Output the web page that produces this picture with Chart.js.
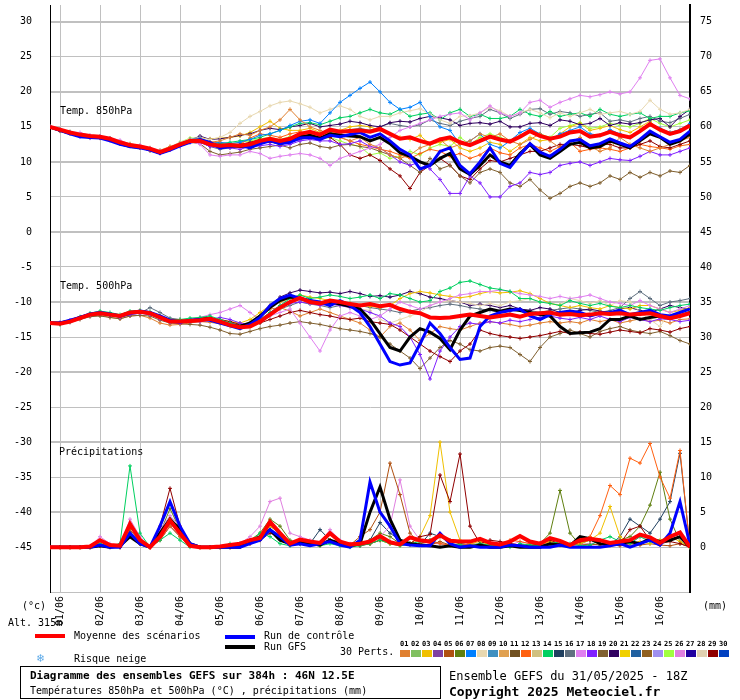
<!DOCTYPE html>
<html><head><meta charset="utf-8">
<script src="https://cdn.jsdelivr.net/npm/chart.js@4"></script>
<style>
body{margin:0;background:#fff;width:740px;height:700px;position:relative;overflow:hidden;font-family:"DejaVu Sans Mono",monospace;font-size:10px;color:#000}
.t{position:absolute;white-space:nowrap;line-height:1}
#wrap{position:absolute;left:0;top:0;width:740px;height:660px}
.bar{position:absolute;width:30px;height:4px}
</style></head><body>
<div id="wrap"><canvas id="c" width="740" height="660"></canvas></div>
<div class="t" style="left:22px;top:601px">(°c)</div>
<div class="t" style="left:703px;top:601px">(mm)</div>
<div class="t" style="left:8px;top:618px">Alt. 315m</div>
<div class="bar" style="left:35px;top:634px;background:#ff0000"></div>
<div class="t" style="left:74px;top:631px">Moyenne des scénarios</div>
<div class="bar" style="left:225px;top:635px;background:#0000ff"></div>
<div class="t" style="left:264px;top:631px">Run de contrôle</div>
<div class="bar" style="left:225px;top:645px;background:#000"></div>
<div class="t" style="left:264px;top:642px">Run GFS</div>
<div class="t" style="left:37px;top:652px;color:#5aa8e8;font-size:12px">❄</div>
<div class="t" style="left:74px;top:654px">Risque neige</div>
<div class="t" style="left:340px;top:647px">30 Perts.</div>
<div id="pl"></div>
<div style="position:absolute;left:20px;top:666px;width:419px;height:31px;border:1px solid #000"></div>
<div class="t" style="left:30px;top:670px;font-weight:bold;font-size:11px">Diagramme des ensembles GEFS sur 384h : 46N 12.5E</div>
<div class="t" style="left:30px;top:686px">Températures 850hPa et 500hPa (°C) , précipitations (mm)</div>
<div class="t" style="left:449px;top:670px;font-size:12px">Ensemble GEFS du 31/05/2025 - 18Z</div>
<div class="t" style="left:449px;top:685px;font-size:13px;font-weight:bold">Copyright 2025 Meteociel.fr</div>
<script>
// ---------- DATA ----------
const dayLabels=["01/06","02/06","03/06","04/06","05/06","06/06","07/06","08/06","09/06","10/06","11/06","12/06","13/06","14/06","15/06","16/06"];
const tempTicks=[-45,-40,-35,-30,-25,-20,-15,-10,-5,0,5,10,15,20,25,30];
const rightTicks=[0,5,10,15,20,25,30,35,40,45,50,55,60,65,70,75];
const palette=["#e08030","#80c060","#f0c000","#8040a0","#b05010","#608010","#0080ff","#e8d8b0","#4090c0","#e0a050","#705020","#ff6010","#d0c080","#00d060","#204060","#607080","#e080f0","#8020ff","#806030","#300060","#f0d000","#2060a0","#906020","#a090f0","#a0ff40","#e080e0","#2000a0","#e0d0b0","#900000","#0040c0"];

// Temp 850hPa (°C), 6-hourly from 31/05 18Z
const t850_mean=[15,14.6,14.2,13.9,13.7,13.6,13.3,12.8,12.4,12.2,11.9,11.4,11.9,
12.5,13,13,12.5,12.3,12.4,12.3,12.5,13,13.3,13,13.3,14,
14.3,13.9,14.6,14.3,14.4,14.5,14.3,14.7,14,13.3,13.5,13,12.6,
13.2,13.5,12.8,12.4,13,13.6,13.2,12.9,13.6,14.4,13.7,13.3,13.6,
14.2,14.4,13.6,13.8,14.3,13.8,13.5,14.4,15.4,14.6,14,14.4,15.2];
const t850_ctl=[15,14.5,14,13.6,13.5,13.4,13,12.5,12.2,12,11.7,11.2,11.7,
12.3,12.8,13.2,12.8,12,12.2,12.4,12,12.6,13,12.6,12.8,13.4,
13.5,13.2,13.8,13.6,13.9,14.2,13.5,14,13,11.8,11,9,9.5,
11.5,12,9.5,8.3,10,12,9.8,9.2,11,12.6,11.4,10.8,11.8,
13,13.2,12.3,12.6,13.3,12.7,12.2,13.2,14.4,13.6,12.8,13.2,14.4];
const t850_gfs=[15,14.5,14.1,13.8,13.6,13.5,13.2,12.6,12.2,12.1,11.8,11.3,11.8,
12.4,12.9,13.1,12.6,12.2,12.3,12.2,12.3,12.8,13.1,12.6,13,13.6,
13.8,13.4,14,13.8,13.7,13.6,13,13.5,12.6,11.3,10.8,10,9.5,
10.5,11.2,9,8.2,9.5,11,10,9.5,11.2,12.5,11,10.5,11.5,
12.5,12.8,12,12.2,13,12.5,12,13,14,13.5,12.5,13,14];
const t850_p01=[15,14.4,14,13.8,13.5,13.4,13.1,12.6,12.5,12,11.6,11.6,12.2,
12.6,13.2,13.3,12.8,13,13.5,14,13.8,14.5,15,16,17.5,16,
15,14.5,14,13.5,13,13.5,12.5,12,11,10.5,11,12,12.5,
13.2,12,12.5,13,14,13.5,14,13,12.5,13.2,14,13,12,
12.8,13.5,12.2,11.5,12,13.5,12.5,12,11.5,12,12.5,13,13.5];
const t850_p07=[15,14.6,14.2,13.8,13.6,13.6,13.2,12.7,12.4,12.1,11.8,11.5,12,
12.6,13.2,13.4,12.6,12.8,12.6,12.8,13.2,13.8,14,14.5,15.2,15.8,
16,15.5,17,18.5,19.5,20.5,21.4,20,18.5,17.5,17.8,18.5,16.5,
15,14.5,12.5,13,14,12.5,12,13,14.2,14.8,14,13.2,14,
14.5,15,14,13.8,14.6,14,13.5,14.4,15.5,14.8,14.2,14.6,15.5];
const t850_p17=[15,14.7,14.3,14.2,13.8,13.7,13.4,13.1,12.5,12.4,12,11.6,12,
12.5,13,12.5,11,10.8,11,11,11.5,11.2,10.5,10.8,11,11.2,
11,10.5,9.5,10.5,11,11.5,12,12.5,13.5,14.5,15,15.5,16,
16.5,16.8,17,16,17,18,17,16.5,17,18.5,18.8,17.8,18.5,
19,19.5,19.3,19.6,20,19.7,20,22,24.5,24.7,22,19.5,19];
const t850_p08=[15,14.8,14.3,14,13.8,13.6,13.3,13,12.6,12.3,12,11.7,12.2,
12.8,13.3,13.5,13.2,13.5,14.2,15.5,16.5,17.2,18,18.5,18.7,18.3,
17.8,17,17.5,18,17.5,16.5,16,16.5,16.5,17,17.3,17.6,16.8,
16,15.5,16.5,16.6,17,17.8,17.3,16.5,17,17.5,17,16.3,17,
16.5,17,17.5,16.8,17,17.2,16.8,17.2,18.8,17.5,16.8,17,17.5];
const t850_p18=[15,14.5,14.1,13.6,13.4,13.4,13.1,12.6,12.2,12,11.7,11.2,11.7,
12.2,12.8,12.8,12.2,12,12,11.8,12.2,12.3,12.5,12.2,12.5,13,
13.2,13,13,12.5,12.6,13,12.2,12,11,10,9.5,10,9,
7.5,5.5,5.5,8,7,5,5,6.5,7,8.5,8.2,8.5,9.5,
9.8,10,9.5,10,10.5,10.3,10.2,10.8,11.5,11,11,11.5,12];
const t850_p19=[15,14.4,14.1,13.7,13.6,13.4,13.1,12.6,12.3,12,11.6,11.4,11.9,
12.4,12.8,12.6,11.5,11,11.2,11.4,11.8,12,12.2,12.4,12,12.5,
12.7,12.2,12,12.4,12.5,12.2,12,11.5,11,10.5,9.5,8.5,10.5,
9,9.5,8,7,8.5,9,8.5,7,6.5,7.5,6,4.8,5.5,
6.5,7,6.5,7,8,7.5,8.5,7.8,8.5,8,8.7,8.5,9.5];
const t850_p29=[15,14.6,14.2,13.9,13.6,13.5,13.2,12.8,12.4,12.2,11.9,11.3,11.8,
12.4,13,12.9,12.2,12.4,12.2,12.5,12.8,13.2,12.8,13,13.2,13.5,
13.6,13.5,13.5,12.5,11,10.5,11,10.2,9,8,6.2,8.5,9.5,
10.5,9.5,8,7.5,9,10.2,10,10.5,11,11.5,11.5,12,12.5,
12.5,12.3,12,12.5,12.5,12,12,12.5,13,12.2,12,12.5,13];
const t850_p14=[15,14.7,14.3,13.9,13.5,13.6,13.4,12.9,12.5,12.3,11.9,11.6,12.1,
12.7,13.2,13,12.5,12.6,12.8,13,13.2,13.5,14,14.5,15,15.5,
15.6,15.3,15.8,16.3,16.5,17,17.5,17,16.8,17.5,16.5,16.8,17,
16,17,17.5,16.5,16.8,16.2,16.2,16.5,17.5,16.8,16.5,17.2,16.5,
16.8,17,16.5,17.5,16.8,16.5,16.8,17,16.2,16.5,16.5,17,17.3];
const t850_p20=[15,14.5,14.2,13.9,13.7,13.5,13.3,12.8,12.4,12.2,11.9,11.4,11.9,
12.5,13.1,13.7,13.2,13.3,13.5,13.8,14,14.5,14.8,14.6,15,15.2,
15.5,15,15.2,15.4,15.8,15.6,15.2,15,15.6,15.8,15.7,16.2,16.5,
16.3,16,15.2,15.5,15.6,15.4,15.8,15,15,15.5,15.6,15.2,16,
15.8,15.3,15.5,16.2,15.2,15.6,15.4,15.6,16,16.2,15,16.5,17.5];
const t850_p12=[15,14.6,14.2,13.9,13.7,13.6,13.4,12.8,12.5,12.2,11.9,11.4,11.9,
12.5,13,13.3,12.9,12.6,12.3,12.5,13.4,14,13.8,13.5,14,14.3,
14,13.5,14,13.5,13,12.5,12.2,11.8,11.5,11,10.5,11.2,11.8,
11.5,10.8,11.2,10.5,11,12,11.3,11,12,12.5,12,11.5,12.2,
12.8,11.5,11.8,12,11.8,11.5,12,12.5,12.2,12,11.8,12.3,12.5];
const t850_p03=[15,14.6,14.3,13.9,13.7,13.6,13.3,12.8,12.6,12.3,12,11.5,12,
12.6,13.2,13.4,13.3,13.4,13.5,13.7,14.2,15,15.8,14.8,14.5,14.5,
14.8,14.2,14,14.5,15,15.2,15,14.5,14,13.5,13.2,13.8,12.5,
12.8,13.2,12,11.5,12,12.8,12.5,11.5,12.5,13.5,13,13.2,14,
15,15.5,14.5,14.8,15.2,14.6,14.2,15,15.8,14.5,14.2,14.6,15];
const t850_p16=[15,14.5,14.1,13.8,13.6,13.5,13.2,12.7,12.3,12.1,11.8,11.4,11.9,
12.4,12.9,12.8,12.2,11.8,12,12.3,12.6,12.8,13,12.6,12.8,13.2,
13.5,13.8,14.2,14,14.6,14.8,14.5,15,15.5,15.2,15,15.3,16,
15.5,15.2,15.8,16.2,16.5,17.5,17,16.2,16.8,17.5,17.6,16.8,17.2,
17,16.5,16.8,17,15.8,16,15.7,16.2,16.5,15.8,15.6,16.2,16.8];
const t850_p25=[15,14.6,14.2,13.9,13.7,13.6,13.3,12.8,12.4,12.3,12,11.5,12,
12.8,13.4,13.4,12.8,12.7,12.6,12.8,13,13.3,13.5,13.2,13.6,13.7,
13.5,13.2,13.5,13,12.5,12.2,11,11.3,10.5,10.8,11.5,11,12,
12.5,12.2,13.5,12.5,13.5,14,13.5,13,13.8,14.5,14,13.5,14.8,
15.2,15.6,14.8,15,15.5,15.2,15,15.5,16.2,15.5,15,15.5,16];

// Temp 500hPa (°C)
const t500_mean=[-13,-13.1,-12.8,-12.3,-11.8,-11.6,-11.8,-12,-11.5,-11.4,-11.6,-12.2,-12.8,
-12.8,-12.7,-12.6,-12.4,-12.8,-13.3,-13.6,-13.5,-12.8,-11.8,-10.8,-10,-9.4,
-10,-10.2,-9.8,-10,-10.3,-10.5,-10.3,-10.6,-10.4,-11,-11.4,-11.6,-12.2,
-12.3,-12.2,-12,-11.8,-12,-12.2,-12,-11.8,-12.1,-11.7,-11.6,-11.5,-11.8,
-11.7,-11.9,-11.8,-11.6,-11.7,-11.6,-11.8,-11.7,-11.6,-12,-12.3,-12,-11.6];
const t500_ctl=[-13,-13,-12.6,-12.2,-11.7,-11.5,-11.7,-12,-11.6,-11.3,-11.5,-12,-12.6,
-12.9,-12.6,-12.5,-12.6,-13,-13.4,-13.8,-13.2,-12.2,-10.5,-9.5,-9,-9.5,
-9.8,-10,-10.5,-9.8,-10.5,-11.5,-13.5,-16,-18.5,-19,-18.7,-16,-13,
-14.5,-16.5,-18.2,-18,-13.5,-12,-11.5,-11.2,-11,-12,-12.5,-11.8,-11.5,
-11.3,-11.5,-12,-11.6,-11.5,-11.2,-11.8,-11.5,-11.2,-11.8,-12,-11.5,-11];
const t500_gfs=[-13,-13,-12.7,-12.2,-11.8,-11.6,-11.8,-12,-11.5,-11.4,-11.6,-12.1,-12.7,
-12.8,-12.7,-12.5,-12.4,-12.8,-13.3,-13.5,-13,-12,-10.8,-9.8,-9.3,-9.5,
-9.8,-10.2,-10,-10.3,-10.6,-11,-12.5,-14.5,-16.5,-17,-15,-13.8,-14.3,
-15.2,-16.8,-14,-12,-11.5,-11,-11.3,-11,-11.2,-11.5,-11.8,-12,-13.5,
-14.5,-14.4,-14.3,-13.8,-12.5,-12.5,-12,-12.5,-12.2,-12,-12.3,-12,-11.5];
const t500_p14=[-13,-13.2,-12.8,-12.1,-11.6,-11.3,-11.5,-11.8,-11.3,-11.2,-11.4,-12,-12.5,
-12.5,-12.3,-12.2,-12,-12.5,-13,-13.4,-13.2,-12.5,-11.5,-10.5,-9.5,-9,
-9.5,-9.3,-9,-9.2,-9.5,-9.3,-9,-9.5,-8.8,-9,-9.5,-10,-9.8,
-8.5,-8,-7.2,-7,-7.5,-8,-8.2,-8.5,-9.5,-9.5,-10,-10.2,-10.5,
-9.8,-10.2,-10.5,-10.2,-10.6,-10.8,-10.5,-10.8,-11,-11.2,-10.8,-10.5,-10.3];
const t500_p17=[-13,-13,-12.9,-12.3,-11.9,-11.6,-11.7,-12.1,-11.6,-11.5,-11.7,-12.3,-12.8,
-12.9,-12.5,-12.2,-11.8,-11.5,-11,-10.5,-11.5,-12.5,-12,-11.5,-11,-13,
-15,-17,-14,-12,-11.5,-12,-12.5,-12,-11,-10,-10.5,-11,-10.5,
-10,-9.5,-9,-8.8,-8.5,-8.5,-8.3,-8.5,-8.8,-9,-9.2,-9.5,-9.2,
-9.5,-9.3,-9,-9.5,-10,-10.2,-10.5,-9.8,-10.5,-11,-11.5,-11,-10.5];
const t500_p18=[-13,-12.9,-12.6,-12.2,-11.8,-11.6,-11.9,-12.2,-11.8,-11.6,-11.8,-12.4,-12.9,
-13,-12.8,-12.8,-12.5,-12.2,-12.5,-13,-13.2,-12.5,-11.5,-10.5,-10.2,-10,
-10.2,-10.5,-10.3,-10.5,-10.8,-11,-11.5,-12,-13,-13.5,-15,-17.5,-21,
-17,-15,-13.5,-13,-13.2,-12.8,-13,-12.6,-12.8,-12.5,-12.2,-12,-12.3,
-12.5,-12.2,-12.5,-12,-12.5,-12.8,-12.2,-12.5,-12.8,-12.4,-12.5,-12.8,-12.6];
const t500_p29=[-13,-13.1,-12.7,-12.3,-11.9,-11.7,-11.9,-12.1,-11.6,-11.5,-11.7,-12.2,-12.7,
-12.7,-12.6,-12.3,-12.2,-12.5,-12.8,-13.2,-13.3,-13,-12.5,-12,-11.5,-11.2,
-11.5,-11.8,-12,-12.3,-12.5,-12.3,-12.8,-13,-13.2,-14,-15,-16,-17,
-17.8,-18.5,-17,-16,-14,-14.5,-14.8,-15,-15.2,-15,-14.8,-14.5,-14.2,
-14.5,-14.3,-14.5,-14.6,-14.3,-14,-14.2,-14.4,-13.8,-14,-14.3,-13.8,-13.5];
const t500_p19=[-13,-13.2,-12.9,-12.5,-12.1,-12,-12.2,-12.4,-12,-11.9,-12,-12.6,-13,
-13.1,-13.2,-13.3,-13.6,-14,-14.5,-14.6,-14.2,-13.8,-13.5,-13.3,-13,-12.8,
-13,-13.2,-13.5,-13.8,-14,-14.2,-14.5,-15,-16,-17,-18,-19.5,-18,
-16.5,-15.5,-16,-16.8,-17,-16.5,-16.3,-16.5,-17.5,-18.5,-16.5,-15,-14.5,
-14,-14.5,-15,-14.2,-13.8,-13.5,-14,-14.3,-14.5,-14.2,-14.8,-15.5,-16];
const t500_p03=[-13,-13,-12.7,-12.2,-11.7,-11.5,-11.7,-12,-11.5,-11.2,-11.5,-12,-12.6,
-12.6,-12.5,-12.4,-12.2,-12.5,-12.8,-13,-12.5,-11.5,-10.5,-10,-9.5,-9,
-9.3,-9.5,-9.8,-10,-10.2,-10.5,-10.6,-10.8,-10.5,-9.5,-8.8,-8.5,-8.7,
-9,-9.2,-9.4,-9.2,-8.8,-8.5,-8.7,-8.6,-8.4,-8.8,-9.5,-10.2,-10.5,
-10.8,-10.5,-10.8,-11,-10.5,-10.8,-11,-10.5,-10.5,-11,-11.5,-11.2,-10.8];
const t500_p08=[-13,-13,-12.8,-12.4,-11.9,-11.7,-11.9,-12.1,-11.7,-11.5,-11.7,-12.3,-12.9,
-12.9,-12.8,-12.7,-12.5,-12.8,-13.4,-13.7,-13.6,-13,-12,-11,-10.2,-9.8,
-10.2,-10.5,-10.2,-10.5,-10.8,-11,-11.2,-12.5,-13,-12.5,-12,-11.5,-10.5,
-10,-9.8,-10,-10.2,-10.5,-10.2,-10.5,-10,-9.8,-9.5,-10,-10.2,-10.4,
-9.5,-9.8,-10.2,-9.8,-10.5,-9.8,-10,-11.5,-12.5,-13.5,-11.5,-11,-11.2];
const t500_p20=[-13,-13,-12.8,-12.3,-11.8,-11.6,-11.8,-12.1,-11.6,-11.4,-11.6,-12.2,-12.8,
-12.8,-12.7,-12.5,-12.3,-12.6,-13,-13.3,-13,-12,-10.5,-9.3,-8.7,-8.3,
-8.5,-8.7,-8.6,-8.8,-8.5,-8.8,-9.2,-9.1,-9.3,-9,-8.5,-8.8,-9.3,
-9.5,-9.8,-10,-10.5,-10.3,-10.5,-10.8,-10.5,-11,-11.2,-10.8,-11,-11.5,
-11.5,-11.2,-11,-11.3,-11.5,-11,-10.8,-11.2,-11.5,-11,-10.5,-10.8,-11];
const t500_p16=[-13,-13.1,-12.8,-12.3,-11.9,-11.7,-11.9,-12.2,-11.8,-11.6,-10.8,-11.5,-12.3,
-12.5,-12.8,-12.6,-12.5,-12.8,-13.2,-13.5,-13.3,-12.8,-11.8,-11,-10.5,-10,
-10.3,-10.5,-10.8,-10.5,-10.2,-10.5,-10.8,-11,-11.2,-11.5,-11.3,-11,-10.8,
-10.5,-10.3,-10.5,-10.8,-11,-11.2,-11.5,-11.3,-11,-11.2,-11.5,-11.2,-11,
-10.8,-11,-11.2,-11.5,-11.2,-10.8,-9.5,-8.5,-9.5,-10.5,-10,-9.8,-9.5];
const t500_p01=[-13,-13,-12.7,-12.3,-12,-11.9,-12.2,-12.4,-12,-11.9,-12.3,-13,-13.3,
-13.2,-13,-12.8,-12.9,-13.1,-13.5,-13.8,-13.3,-12.3,-11,-10.8,-11.3,-12,
-11.5,-11,-11.5,-12,-12.5,-13,-14,-15,-13.5,-13,-14,-15.5,-14.5,
-13.5,-13.8,-14,-13.5,-13,-12.8,-13,-13.2,-13.5,-13.3,-13,-12.8,-13,
-12.8,-13,-12.5,-12.8,-12.5,-13,-12.7,-12.4,-12.8,-12.6,-13,-12.5,-12.4];

// Precipitation (mm)
const pr_mean=[0,0,0,0,0.1,1,0.3,0.2,3.3,1,0,1.5,3.8,
2,0.2,0,0,0.1,0.3,0.5,1,1.3,3.6,2,0.5,1.1,
0.8,0.6,2,0.8,0.4,0.5,0.8,1.6,0.7,0.4,1.4,1,0.8,
1.7,0.9,0.8,0.8,1.2,0.6,0.4,0.8,1.6,0.8,0.5,1.3,0.9,
0.3,1,1.2,1,0.6,0.8,1,1.8,1.4,0.6,1.5,2.1,0];
const pr_ctl=[0,0,0,0,0,0.3,0,0,2,0.5,0,3,6.5,
3,0.5,0,0,0,0,0,0.5,1,2.5,1.5,0.3,0.5,
0.2,0.5,0.8,0.3,0,1,9.3,5,3,0.5,0.3,0.2,0.2,
2,0.5,0,0.2,0,0,0,0.3,0.2,0,0,0,0.3,
0,0,0,0,0.2,0.5,0,0.5,1,0.3,2,6.5,0.3];
const pr_gfs=[0,0,0,0,0,0.2,0,0.2,1.5,0.5,0,2,4,
2.5,0.5,0,0,0,0,0,0.8,1.5,2.5,1,0.5,0.8,
0.5,0.3,1,0.5,0.2,0.5,5,8.6,4,1,0.5,0.3,0.2,
0,0.2,0,0,0.3,0,0,0.2,0,0,0,0.5,0.3,
0.2,1.5,1.2,0.5,0.3,0.5,0.8,0.5,1.2,0.8,1,1.5,0];
const pr_p14=[0,0,0,0,0,0.5,0.2,0.5,11.6,2,0,1,2,
1,0,0,0,0,0.5,0.5,0.8,2,1.5,0.5,0.2,0.5,
0.3,0.2,0.5,0.2,0,0.2,0.5,1,0.5,0.2,0.5,0.8,1,
1.8,0.5,0.3,0.2,0.5,0.3,0.2,0,0.5,0.3,0.2,0.5,0.8,
0.5,0.2,0.3,1,1.5,0.8,0.5,1.5,0.8,0.5,1,1.5,0];
const pr_p29=[0,0,0,0,0,0.3,0.2,0,2,0.5,0,3,8.4,
3,0.5,0,0,0,0,0.2,0.5,1,2,1.5,0.3,0.5,
0.5,0.3,0.8,0.5,0.3,0.2,0.5,1,0.8,0.5,0.5,1.5,1.8,
10.3,6.5,13.3,3,0.5,1,0.8,0.5,0.3,0.2,0.5,1,0.5,
0.3,0.8,1,0.5,0.3,0.5,2.5,3,1,0.5,0.8,0.5,0];
const pr_p03=[0,0,0,0,0,0.5,0.3,0,3,1,0,2,4,
2,0.2,0,0,0,0,0.3,0.8,1.5,3,2,0.5,0.8,
0.5,0.3,1,0.5,0.2,0.3,0.5,1,0.5,0.2,0.5,1.5,4.5,
15,5,1,0.5,0.8,0.3,0.2,0.5,0.3,0.2,0.5,0.8,0.5,
0.3,0.5,1,2,5.8,1.5,0.5,0.8,0.5,1,1.5,0.8,0];
const pr_p12=[0,0,0,0,0,0.2,0,0,1.5,0.5,0,1,3,
1.5,0.2,0,0,0,0,0.2,0.5,1,2.5,1.5,0.3,0.5,
0.3,0.2,1,0.5,0.2,0.3,0.5,1,0.5,0.3,0.5,1,0.8,
0.5,0.3,0.2,0.5,0.3,0.2,0.5,1,0.8,0.5,0.3,0.8,0.5,
0.3,0.5,1.5,4.5,8.8,7.5,12.7,12,14.8,10,7,13.8,0];
const pr_p05=[0,0,0,0,0,0.3,0.2,0,2.5,0.8,0,1.5,3.5,
2,0.3,0,0,0,0,0.3,0.8,1.5,3,2,0.5,1,
0.5,0.3,1,0.5,0.3,1.5,2.5,5,12,7.5,2,0.5,0.3,
0.8,0.3,0.2,0.5,0.3,0.2,0.5,0.3,0.2,0.5,0.3,0.5,0.3,
0.2,0.5,0.3,0.5,0.3,0.2,0.5,0.3,0.5,0.3,0.2,0.5,0];
const pr_p26=[0,0,0,0,0,1.5,0.5,0,4,1.5,0,2.5,4.5,
3,0.5,0,0,0,0,0.5,1.5,3,6.5,7,2,1.5,
1,0.5,2.5,1,0.5,0.3,0.5,1.5,3,9.6,3,1,0.5,
0.5,0.3,0.2,0.5,0.3,0.2,0.5,0.3,0.8,0.5,0.3,0.5,0.3,
0.2,0.3,0.5,0.8,0.5,0.3,0.5,1.5,1,0.5,1,1.5,0];
const pr_p06=[0,0,0,0,0,0.3,0,0,1.5,0.5,0,2,5.5,
2.5,0.5,0,0,0,0,0.5,1,2,4,3,1,0.5,
0.5,0.3,1,0.8,0.3,0.5,1,2,1.5,0.5,0.3,0.5,1,
0.5,0.3,0.5,0.3,0.2,0.5,0.3,0.5,0.3,0.2,0.5,2,8.1,
2,0.3,0.5,0.3,0.5,1,1.5,3,6,10.7,4,0.8,0];
const pr_p15=[0,0,0,0,0,0.2,0,0,2,0.5,0,1,3,
1.5,0.3,0,0,0,0,0.3,0.8,1.5,2.5,1.5,0.5,0.8,
0.5,2.5,1,0.5,0.3,0.5,1,3.5,2,1,0.5,0.3,2,
1.5,1,0.5,0.3,0.5,0.3,0.2,0.5,0.3,0.2,0.5,0.3,0.5,
0.3,0.5,1,0.5,0.3,1.5,4,3,2,4,6.5,13.4,0];

// member number -> series
const members850=[[1,t850_p01],[7,t850_p07],[17,t850_p17],[8,t850_p08],[18,t850_p18],[19,t850_p19],[29,t850_p29],[14,t850_p14],[20,t850_p20],[12,t850_p12],[3,t850_p03],[16,t850_p16],[25,t850_p25]];
const members500=[[14,t500_p14],[17,t500_p17],[18,t500_p18],[29,t500_p29],[19,t500_p19],[3,t500_p03],[8,t500_p08],[20,t500_p20],[16,t500_p16],[1,t500_p01]];
const membersPr=[[14,pr_p14],[29,pr_p29],[3,pr_p03],[12,pr_p12],[5,pr_p05],[26,pr_p26],[6,pr_p06],[15,pr_p15]];
const PR_OFFSET=-45; // precipitation panel baseline on the shared axis

// ---------- LEGEND SWATCHES ----------
const pl=document.getElementById('pl');
palette.forEach((c,k)=>{
  const n=document.createElement('div');n.className='t';
  n.style.cssText=`left:${400+k*11}px;top:641px;font-size:7px;font-weight:bold`;
  n.textContent=String(k+1).padStart(2,'0');pl.appendChild(n);
  const s=document.createElement('div');
  s.style.cssText=`position:absolute;left:${400+k*11}px;top:650px;width:10px;height:7px;background:${c}`;
  pl.appendChild(s);
});

// ---------- CHART ----------
const toXY=(arr,off=0)=>arr.map((v,i)=>({x:i,y:v+off}));
const ds=[];
function addSet(arr,off,color,w,order,pts){
  ds.push({data:toXY(arr,off),borderColor:color,backgroundColor:color,borderWidth:w,order:order,
    pointStyle:'cross',pointRadius:pts?2:0,pointBorderWidth:1,tension:0,fill:false});
}
[[members850,0],[members500,0],[membersPr,PR_OFFSET]].forEach(([list,off])=>{
  list.forEach(([n,arr])=>addSet(arr,off,palette[n-1],1,5,true));
});
[[t850_gfs,0],[t500_gfs,0],[pr_gfs,PR_OFFSET]].forEach(([a,o])=>addSet(a,o,'#000',3,3,false));
[[t850_ctl,0],[t500_ctl,0],[pr_ctl,PR_OFFSET]].forEach(([a,o])=>addSet(a,o,'#0000ff',3,2,false));
[[t850_mean,0],[t500_mean,0],[pr_mean,PR_OFFSET]].forEach(([a,o])=>addSet(a,o,'#ff0000',4,1,false));

const F={family:'DejaVu Sans Mono',size:10};
const panelText={id:'pt',afterDatasetsDraw(ch){
  const c=ch.ctx,ys=ch.scales.y,xs=ch.scales.x;c.save();c.font='10px "DejaVu Sans Mono"';c.fillStyle='#000';c.textBaseline='middle';
  c.fillText('Temp. 850hPa',xs.left+10,ys.getPixelForValue(17.2));
  c.fillText('Temp. 500hPa',xs.left+10,ys.getPixelForValue(-7.8));
  c.fillText('Précipitations',xs.left+9,ys.getPixelForValue(-31.5));
  c.restore();}};
const bg={id:'bg',beforeDraw(ch){const c=ch.ctx;c.save();c.fillStyle='#fff';c.fillRect(0,0,ch.width,ch.height);c.restore();}};

new Chart(document.getElementById('c'),{type:'line',
 data:{datasets:ds},
 plugins:[bg,panelText],
 options:{responsive:false,animation:false,devicePixelRatio:1,
  layout:{padding:0},
  plugins:{legend:{display:false},tooltip:{enabled:false}},
  scales:{
   x:{type:'linear',min:0,max:64,
      afterBuildTicks(s){s.ticks=dayLabels.map((_,k)=>({value:1+4*k}));},
      afterFit(s){s.height=68;s.paddingLeft=0;s.paddingRight=0;},
      ticks:{font:F,color:'#000',minRotation:90,maxRotation:90,padding:4,autoSkip:false,
        callback:(v)=>dayLabels[(v-1)/4]},
      grid:{color:'#c0c0c0',lineWidth:1,drawTicks:false},
      border:{display:true,color:'#c0c0c0'}},
   y:{type:'linear',min:-51.4,max:32.4,position:'left',
      afterBuildTicks(s){s.ticks=[-50].concat(tempTicks).map(v=>({value:v}));},
      afterFit(s){s.width=50;s.paddingTop=0;s.paddingBottom=0;},
      ticks:{font:F,color:'#000',padding:18,callback:(v)=>v<-45?'':String(v)},
      grid:{drawTicks:false,color:(c)=>c.tick&&c.tick.value<-45?'rgba(0,0,0,0)':'#c0c0c0',
            lineWidth:(c)=>c.tick&&c.tick.value%10===0?2:1},
      border:{display:true,color:'#000',width:1}},
   y2:{type:'linear',min:-51.4,max:32.4,position:'right',
      afterBuildTicks(s){s.ticks=rightTicks.map(v=>({value:v-45}));},
      afterFit(s){s.width=50;s.paddingTop=0;s.paddingBottom=0;},
      ticks:{font:F,color:'#000',padding:10,callback:(v)=>String(Math.round(v+45))},
      grid:{display:false,drawTicks:false},
      border:{display:true,color:'#000',width:2}}
  }}});
</script></body></html>
